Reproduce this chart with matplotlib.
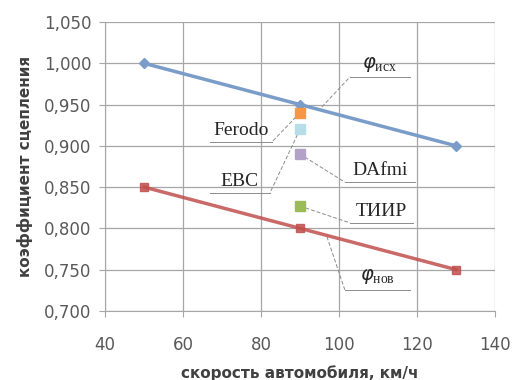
import matplotlib
matplotlib.use('Agg')
import matplotlib.pyplot as plt
from matplotlib.ticker import FuncFormatter, MultipleLocator

# данные
speed = [50, 90, 130]
phi_ish = [1.000, 0.950, 0.900]
phi_nov = [0.850, 0.800, 0.750]
materials = ['Ferodo', 'EBC', 'DAfmi', 'ТИИР']
material_speed = [90, 90, 90, 90]
material_phi = [0.940, 0.920, 0.890, 0.827]
material_colors = ['#F79646', '#B7DEE8', '#B3A2C7', '#9BBB59']

fig = plt.figure(figsize=(5.15, 3.8), dpi=100)
ax = fig.add_axes([0.204, 0.182, 0.757, 0.76])

ax.plot(speed, phi_ish, color='#7A9CC8', lw=2.5, marker='D', ms=5, zorder=3)
ax.plot(speed, phi_nov, color='#C0504D', lw=2.5, marker='s', ms=6, alpha=0.85, zorder=3)
for x, y, c in zip(material_speed, material_phi, material_colors):
    ax.plot(x, y, marker='s', ms=7, color=c, ls='none', zorder=4)

ax.set_xlim(40, 140)
ax.set_ylim(0.700, 1.050)
ax.xaxis.set_major_locator(MultipleLocator(20))
ax.yaxis.set_major_locator(MultipleLocator(0.05))
ax.yaxis.set_major_formatter(FuncFormatter(lambda v, p: f'{v:.3f}'.replace('.', ',')))
ax.grid(True, color='#A6A6A6', lw=0.9)
ax.set_axisbelow(True)
for s in ['top', 'right']:
    ax.spines[s].set_visible(False)
for s in ['left', 'bottom']:
    ax.spines[s].set_color('#A6A6A6')
ax.tick_params(colors='#A6A6A6', labelcolor='#595959', labelsize=12, length=4)
ax.tick_params(axis='x', pad=14)
ax.tick_params(axis='y', pad=6)

ax.set_xlabel('скорость автомобиля, км/ч', fontsize=11, fontweight='bold', color='#404040', labelpad=8)
ax.set_ylabel('коэффициент сцепления', fontsize=11, fontweight='bold', color='#404040', labelpad=8)

# подписи с выносками: (текст, точка, начало линии, конец линии)
serif = 'Liberation Serif'
labels = [
    (r'$\varphi_{\mathregular{исх}}$', (95.6, 0.947), (102.8, 118.2), 0.9834),
    ('Ferodo', (90, 0.940), (82.8, 66.9), 0.9047),
    ('EBC', (90, 0.920), (82.3, 66.9), 0.843),
    ('DAfmi', (90, 0.890), (101.5, 119.5), 0.856),
    ('ТИИР', (90, 0.827), (102.8, 119.0), 0.8066),
    (r'$\varphi_{\mathregular{нов}}$', (96.9, 0.790), (101.5, 118.2), 0.7255),
]
for text, (px, py), (x0, x1), yl in labels:
    ax.plot([px, x0], [py, yl], color='#8C8C8C', lw=0.7, ls=(0, (4, 2)), zorder=2)
    ax.plot([x0, x1], [yl, yl], color='#8C8C8C', lw=0.7, zorder=2)
    ax.text((x0 + x1) / 2, yl + 0.004, text, ha='center', va='bottom',
            fontsize=14, family=serif, color='#262626')

fig.savefig('out.png', dpi=100)
